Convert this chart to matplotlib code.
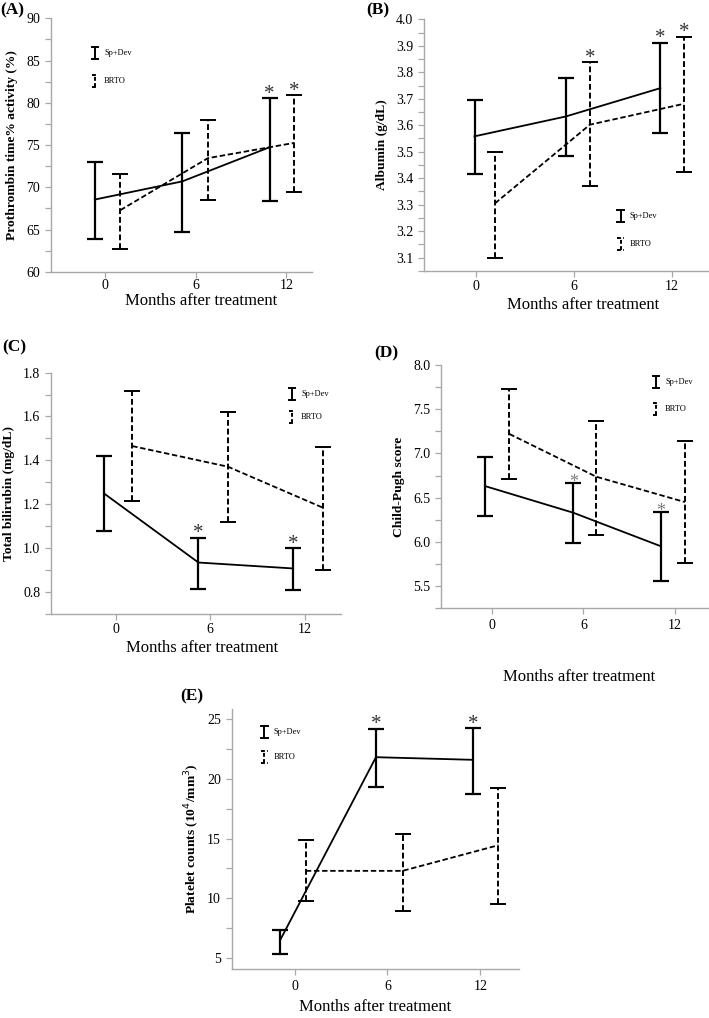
import matplotlib
matplotlib.use('Agg')
import matplotlib.pyplot as plt
from matplotlib.ticker import MultipleLocator

plt.rcParams['font.family'] = ['Liberation Serif', 'DejaVu Serif']

# x positions of the points (months, slightly offset per group as in the figure)
month_ticks = [0, 6, 12]

# (A) Prothrombin time % activity
a_x_sp = [-0.7, 5.1, 10.9]
a_sp = [68.55, 70.7, 74.75]
a_sp_lo = [63.85, 64.7, 68.4]
a_sp_hi = [72.95, 76.45, 80.55]
a_x_br = [1.0, 6.8, 12.5]
a_br = [67.3, 73.45, 75.25]
a_br_lo = [62.75, 68.5, 69.4]
a_br_hi = [71.55, 77.95, 80.9]

# (B) Albumin
b_x_sp = [-0.1, 5.5, 11.3]
b_sp = [3.558, 3.633, 3.74]
b_sp_lo = [3.414, 3.482, 3.571]
b_sp_hi = [3.697, 3.78, 3.912]
b_x_br = [1.16, 6.98, 12.75]
b_br = [3.305, 3.602, 3.681]
b_br_lo = [3.10, 3.37, 3.423]
b_br_hi = [3.50, 3.837, 3.935]

# (C) Total bilirubin
c_x_sp = [-0.74, 5.25, 11.26]
c_sp = [1.249, 0.934, 0.907]
c_sp_lo = [1.077, 0.812, 0.808]
c_sp_hi = [1.421, 1.047, 0.998]
c_x_br = [1.05, 7.12, 13.15]
c_br = [1.465, 1.371, 1.184]
c_br_lo = [1.214, 1.117, 0.90]
c_br_hi = [1.716, 1.622, 1.461]

# (D) Child-Pugh score
d_x_sp = [-0.44, 5.33, 11.1]
d_sp = [6.63, 6.33, 5.95]
d_sp_lo = [6.29, 5.99, 5.556]
d_sp_hi = [6.955, 6.665, 6.34]
d_x_br = [1.14, 6.84, 12.67]
d_br = [7.22, 6.737, 6.45]
d_br_lo = [6.714, 6.075, 5.763]
d_br_hi = [7.726, 7.37, 7.135]

# (E) Platelet counts
e_x_sp = [-0.93, 5.26, 11.53]
e_sp = [6.48, 21.82, 21.6]
e_sp_lo = [5.36, 19.3, 18.77]
e_sp_hi = [7.37, 24.22, 24.25]
e_x_br = [0.73, 6.98, 13.17]
e_br = [12.29, 12.29, 14.44]
e_br_lo = [9.75, 8.94, 9.47]
e_br_hi = [14.86, 15.42, 19.25]

W, H = 709, 1018
fig = plt.figure(figsize=(W / 100, H / 100), dpi=100)

GRAY = '#a8a8a8'
DASH = (0, (3.0, 1.5))


def draw_legend(ax, rect, x, y, dy_px):
    fx = 1.0 / (rect[2] * W)
    fy = 1.0 / (rect[3] * H)
    half_h = 6.0 * fy
    half_w = 3.2 * fx
    for i, (lab, ls) in enumerate([('Sp+Dev', '-'), ('BRTO', (0, (2.0, 1.2)))]):
        yy = y - i * dy_px * fy
        kw = dict(color='black', lw=1.4, ls=ls, transform=ax.transAxes, clip_on=False)
        ax.plot([x, x], [yy - half_h, yy + half_h], **kw)
        ax.plot([x - half_w, x + half_w], [yy + half_h] * 2, **kw)
        ax.plot([x - half_w, x + half_w], [yy - half_h] * 2, **kw)
        ax.text(x + 9 * fx, yy, lab, transform=ax.transAxes, fontsize=6,
                va='center', ha='left')


def panel(rect, label, lab_xy, xs_sp, sp, sp_lo, sp_hi, xs_br, br, br_lo, br_hi,
          ylim, ymajor, yminor, xlim, ylabel, fmt, stars_sp, stars_br, leg,
          tick_pad, xlab_pos, ylabpad=6, star_color='#333333', star_off=-4, star_size=15):
    ax = fig.add_axes(rect)
    err_sp = [[m - l for m, l in zip(sp, sp_lo)], [h - m for m, h in zip(sp, sp_hi)]]
    err_br = [[m - l for m, l in zip(br, br_lo)], [h - m for m, h in zip(br, br_hi)]]
    ax.errorbar(xs_sp, sp, yerr=err_sp, color='black', lw=1.3, elinewidth=1.6,
                capsize=5.5, capthick=1.6, zorder=3)
    eb = ax.errorbar(xs_br, br, yerr=err_br, color='black', lw=1.3, ls='--',
                     elinewidth=1.4, capsize=5.5, capthick=1.4, zorder=3)
    eb[0].set_linestyle(DASH)
    for coll in eb[2]:
        coll.set_linestyle(DASH)
    for i in stars_sp:
        ax.annotate('*', (xs_sp[i], sp_hi[i]), xytext=(0, star_off), textcoords='offset points',
                    ha='center', va='bottom', fontsize=star_size, color=star_color, zorder=4)
    for i in stars_br:
        ax.annotate('*', (xs_br[i], br_hi[i]), xytext=(0, star_off), textcoords='offset points',
                    ha='center', va='bottom', fontsize=star_size, color=star_color, zorder=4)
    ax.set_xlim(*xlim)
    ax.set_ylim(*ylim)
    ax.set_xticks(month_ticks)
    ax.yaxis.set_major_locator(MultipleLocator(ymajor))
    ax.yaxis.set_minor_locator(MultipleLocator(yminor))
    ax.yaxis.set_major_formatter(fmt)
    for s in ['top', 'right']:
        ax.spines[s].set_visible(False)
    for s in ['left', 'bottom']:
        ax.spines[s].set_color(GRAY)
        ax.spines[s].set_linewidth(1.0)
    ax.tick_params(axis='both', which='both', color=GRAY, labelsize=10, length=4.3, width=0.9)
    ax.tick_params(axis='x', pad=tick_pad)
    ax.set_xlabel('Months after treatment', fontsize=12)
    ax.xaxis.set_label_coords(xlab_pos[0], -(xlab_pos[1] - 9.5) / (rect[3] * H))
    ax.set_ylabel(ylabel, fontsize=9.7, fontweight='bold', labelpad=ylabpad)
    fig.text(lab_xy[0], lab_xy[1], label, fontsize=12.5, fontweight='bold',
             ha='left', va='center')
    draw_legend(ax, rect, *leg)
    return ax


rA = [0.072, 0.733, 0.368, 0.249]
rB = [0.598, 0.734, 0.400, 0.247]
rC = [0.072, 0.397, 0.409, 0.237]
rD = [0.622, 0.4025, 0.377, 0.239]
rE = [0.327, 0.048, 0.405, 0.256]

panel(rA, '(A)', (0.0, 0.990),
      a_x_sp, a_sp, a_sp_lo, a_sp_hi, a_x_br, a_br, a_br_lo, a_br_hi,
      (60, 90), 5, 2.5, (-3.6, 13.7), 'Prothrombin time% activity (%)', '{x:.0f}',
      [2], [2], (0.169, 0.862, 28), 1.1, (0.575, 31))
panel(rB, '(B)', (0.516, 0.990),
      b_x_sp, b_sp, b_sp_lo, b_sp_hi, b_x_br, b_br, b_br_lo, b_br_hi,
      (3.05, 4.0), 0.1, 0.05, (-3.2, 14.2), 'Albumin (g/dL)', '{x:.1f}',
      [2], [1, 2], (0.693, 0.2185, 28), 2.5, (0.56, 36))
panel(rC, '(C)', (0.003, 0.659),
      c_x_sp, c_sp, c_sp_lo, c_sp_hi, c_x_br, c_br, c_br_lo, c_br_hi,
      (0.7, 1.8), 0.2, 0.1, (-4.1, 14.3), 'Total bilirubin (mg/dL)', '{x:.1f}',
      [1, 2], [], (0.831, 0.912, 23), 2.0, (0.522, 36))
panel(rD, '(D)', (0.528, 0.653),
      d_x_sp, d_sp, d_sp_lo, d_sp_hi, d_x_br, d_br, d_br_lo, d_br_hi,
      (5.25, 8.0), 0.5, 0.25, (-3.35, 14.2), 'Child-Pugh score', '{x:.1f}',
      [1, 2], [], (0.805, 0.929, 27), 3.2, (0.515, 70),
      star_color='#7a7a7a', star_off=-6, star_size=13)
panel(rE, '(E)', (0.254, 0.316),
      e_x_sp, e_sp, e_sp_lo, e_sp_hi, e_x_br, e_br, e_br_lo, e_br_hi,
      (4.05, 25.9), 5, 2.5, (-4.05, 14.5), 'Platelet counts (10$^4$/mm$^3$)', '{x:.0f}',
      [1, 2], [], (0.1135, 0.910, 25), 3.2, (0.5, 39), ylabpad=4)

fig.savefig('out.png', dpi=100)
